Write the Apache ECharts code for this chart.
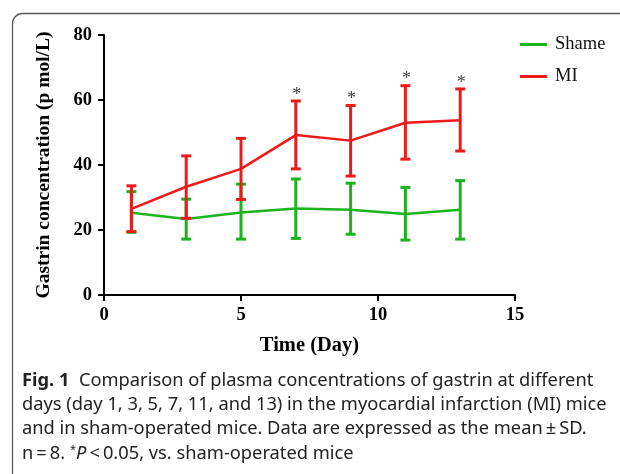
<!DOCTYPE html>
<html>
<head>
<meta charset="utf-8">
<script src="https://cdn.jsdelivr.net/npm/echarts@6/dist/echarts.min.js"></script>
<style>
  html, body { margin: 0; padding: 0; background: #fff; }
  #chart { width: 620px; height: 474px; }
</style>
</head>
<body>
<div id="chart"></div>
<script>
// days on the x axis
var days = [1, 3, 5, 7, 9, 11, 13];

// Shame group: mean and error bar ends
var shameMean = [25.3, 23.4, 25.4, 26.6, 26.2, 24.9, 26.2];
var shameLow  = [19.3, 17.2, 17.2, 17.4, 18.7, 16.9, 17.2];
var shameHigh = [31.8, 29.5, 34.1, 35.7, 34.4, 33.1, 35.2];

// MI group
var miMean = [26.5, 33.3, 38.8, 49.2, 47.5, 53.0, 53.8];
var miLow  = [19.5, 23.6, 29.4, 38.8, 36.6, 41.8, 44.3];
var miHigh = [33.6, 42.8, 48.2, 59.7, 58.3, 64.4, 63.4];
// significance marks (*) on MI
var miSig  = [0, 0, 0, 1, 1, 1, 1];

var GREEN = '#1cb41c';
var RED = '#ee1a1a';
var SERIF = '"Liberation Serif", "DejaVu Serif", serif';
var CAP_FONT = '18.3px "Noto Sans"';

var chart = echarts.init(document.getElementById('chart'));

function pairs(means) {
    return days.map(function (d, i) { return [d, means[i]]; });
}
function bars(low, high, sig) {
    return days.map(function (d, i) { return [d, low[i], high[i], sig ? sig[i] : 0]; });
}

// error bar with caps, plus a star above when significant
function makeErrRender(color) {
    return function (params, api) {
        var x = api.value(0);
        var top = api.coord([x, api.value(2)]);
        var bot = api.coord([x, api.value(1)]);
        var w = 5;
        var st = { stroke: color, lineWidth: 3 };
        var kids = [
            { type: 'line', shape: { x1: top[0], y1: top[1], x2: bot[0], y2: bot[1] }, style: st },
            { type: 'line', shape: { x1: top[0] - w, y1: top[1], x2: top[0] + w, y2: top[1] }, style: st },
            { type: 'line', shape: { x1: bot[0] - w, y1: bot[1], x2: bot[0] + w, y2: bot[1] }, style: st }
        ];
        if (api.value(3)) {
            kids.push({
                type: 'text',
                style: {
                    text: '*', x: top[0] + 1, y: top[1] + 3,
                    textAlign: 'center', textVerticalAlign: 'bottom',
                    fill: '#444', font: '18px ' + SERIF
                }
            });
        }
        return { type: 'group', children: kids };
    };
}

var option = {
    backgroundColor: '#fff',
    animation: false,
    grid: { left: 104, right: 105, top: 35, bottom: 179 },
    legend: {
        data: ['Shame', 'MI'],
        orient: 'vertical',
        left: 520, top: 35,
        padding: 0,
        icon: 'rect',
        itemWidth: 27, itemHeight: 3,
        itemGap: 13,
        textStyle: { fontFamily: SERIF, fontSize: 18.5, color: '#111', padding: [0, 0, 0, 3] }
    },
    xAxis: {
        type: 'value', min: 0, max: 15, interval: 5,
        name: 'Time (Day)', nameLocation: 'middle', nameGap: 40,
        nameTextStyle: { fontFamily: SERIF, fontWeight: 'bold', fontSize: 20.5, color: '#000' },
        axisLine: { lineStyle: { color: '#000', width: 2 } },
        axisTick: { show: true, length: 6, lineStyle: { color: '#000', width: 2 } },
        axisLabel: { margin: 11, fontFamily: SERIF, fontWeight: 'bold', fontSize: 18.5, color: '#000' },
        splitLine: { show: false }
    },
    yAxis: {
        type: 'value', min: 0, max: 80, interval: 20,
        name: 'Gastrin concentration (p mol/L)', nameLocation: 'middle', nameGap: 50,
        nameTextStyle: { fontFamily: SERIF, fontWeight: 'bold', fontSize: 19.5, color: '#000' },
        axisLine: { show: true, lineStyle: { color: '#000', width: 2 } },
        axisTick: { show: true, length: 6, lineStyle: { color: '#000', width: 2 } },
        axisLabel: { margin: 12, fontFamily: SERIF, fontWeight: 'bold', fontSize: 18.5, color: '#000' },
        splitLine: { show: false }
    },
    series: [
        {
            name: 'Shame', type: 'line', data: pairs(shameMean),
            symbol: 'none', color: GREEN, lineStyle: { width: 2.5, color: GREEN }, z: 2
        },
        {
            name: 'Shame err', type: 'custom', data: bars(shameLow, shameHigh),
            renderItem: makeErrRender(GREEN), z: 2
        },
        {
            name: 'MI', type: 'line', data: pairs(miMean),
            symbol: 'none', color: RED, lineStyle: { width: 2.5, color: RED }, z: 3
        },
        {
            name: 'MI err', type: 'custom', data: bars(miLow, miHigh, miSig),
            renderItem: makeErrRender(RED), z: 3
        }
    ],
    graphic: [
        {
            type: 'rect', left: 10, top: 11,
            shape: { width: 700, height: 470, r: 10 },
            style: { fill: 'none', stroke: '#5a5a5a', lineWidth: 1.3 }
        },
        {
            type: 'text', left: 22, top: 372,
            style: {
                text: '{b|Fig. 1}  Comparison of plasma concentrations of gastrin at different',
                rich: { b: { fontWeight: 'bold', fontSize: 18.3, fontFamily: '"Noto Sans"', fill: '#222' } },
                font: CAP_FONT, fill: '#222'
            }
        },
        {
            type: 'text', left: 22, top: 396,
            style: { text: 'days (day 1, 3, 5, 7, 11, and 13) in the myocardial infarction (MI) mice', font: CAP_FONT, fill: '#222' }
        },
        {
            type: 'text', left: 22, top: 420,
            style: { text: 'and in sham-operated mice. Data are expressed as the mean\u2009\u00b1\u2009SD.', font: CAP_FONT, fill: '#222' }
        },
        {
            type: 'text', left: 22, top: 444,
            style: {
                text: 'n\u2009=\u20098. {s|*}{i|P}\u2009<\u20090.05, vs. sham-operated mice',
                font: CAP_FONT, fill: '#222',
                rich: {
                    s: { fontSize: 11, fontFamily: '"Noto Sans"', verticalAlign: 'top', padding: [0, 0, 8, 0] },
                    i: { fontStyle: 'italic', fontSize: 18.3, fontFamily: '"Noto Sans"' }
                }
            }
        }
    ]
};

chart.setOption(option);
</script>
</body>
</html>
